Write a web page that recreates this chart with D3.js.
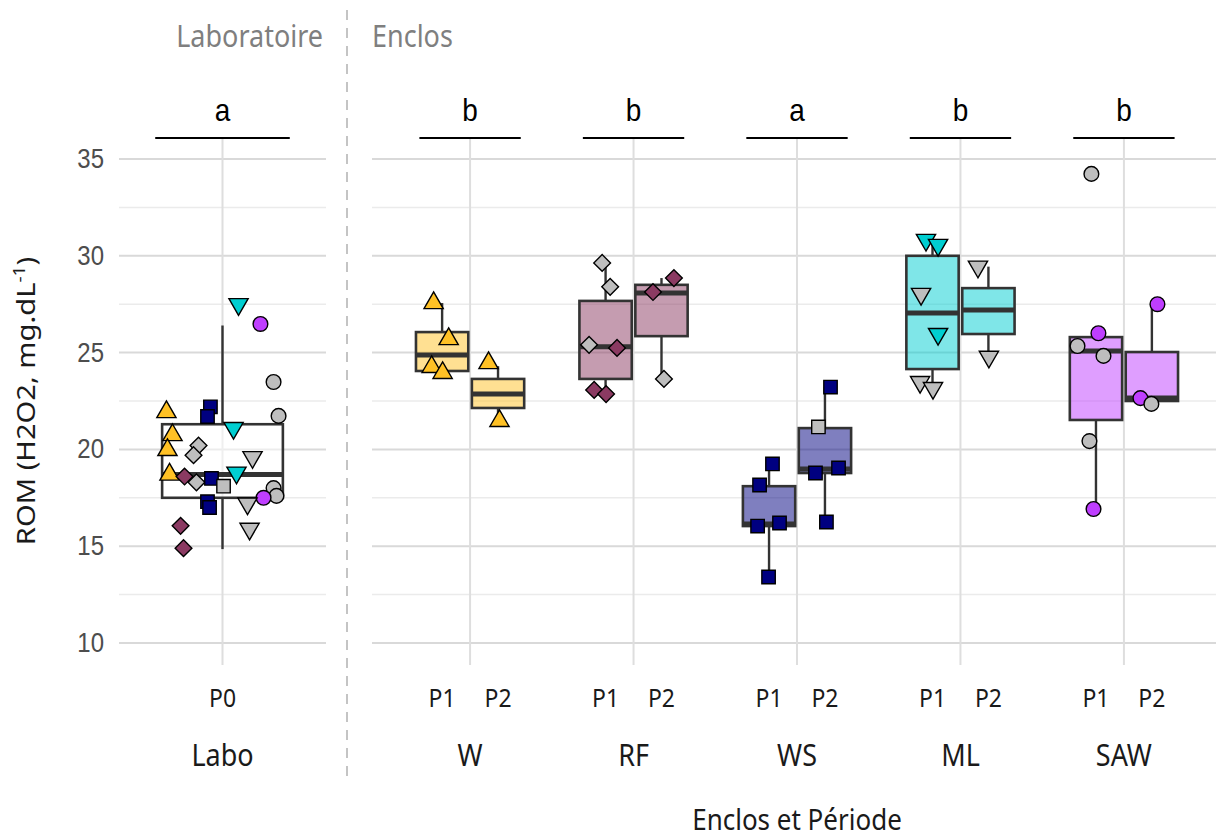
<!DOCTYPE html>
<html>
<head>
<meta charset="utf-8">
<script src="https://cdn.jsdelivr.net/npm/d3@7"></script>
<style>
  body { margin: 0; background: #fff; }
  svg { display: block; }
</style>
</head>
<body>
<div id="chart"></div>
<script>
// groups, periods and significance letters
const laboGroups = ["Labo"]
const enclosGroups = ["W", "RF", "WS", "ML", "SAW"]
const groupLetters = {Labo: "a", W: "b", RF: "b", WS: "a", ML: "b", SAW: "b"}

// box statistics (one entry per box)
const boxGroup  = ["Labo", "W", "W", "RF", "RF", "WS", "WS", "ML", "ML", "SAW", "SAW"]
const boxPeriod = ["P0", "P1", "P2", "P1", "P2", "P1", "P2", "P1", "P2", "P1", "P2"]
const boxLow    = [14.85, 23.95, 21.5, 22.86, 23.64, 13.41, 16.25, 23.17, 24.9, 16.92, 22.4]
const boxQ1     = [17.5, 24.05, 22.14, 23.64, 25.85, 16.04, 18.78, 24.15, 25.96, 21.52, 22.5]
const boxMedian = [18.7, 24.88, 22.86, 25.3, 28.08, 16.15, 18.99, 27.05, 27.2, 25.08, 22.65]
const boxQ3     = [21.3, 26.06, 23.64, 27.67, 28.5, 18.1, 21.1, 30.0, 28.33, 25.8, 25.03]
const boxHigh   = [26.4, 27.56, 24.3, 29.63, 28.85, 19.25, 23.22, 30.66, 29.44, 26.0, 27.46]

// individual points: box, enclos of the animal (shape/colour), coloured or grey, value, jitter (in category steps)
const ptGroup  = ["Labo","Labo","Labo","Labo","Labo","Labo","Labo","Labo","Labo","Labo","Labo","Labo","Labo","Labo",
                  "Labo","Labo","Labo","Labo","Labo","Labo","Labo","Labo","Labo","Labo","Labo","Labo","Labo","Labo",
                  "W","W","W","W","W","W",
                  "RF","RF","RF","RF","RF","RF","RF","RF","RF",
                  "WS","WS","WS","WS","WS","WS","WS","WS","WS","WS",
                  "ML","ML","ML","ML","ML","ML","ML","ML",
                  "SAW","SAW","SAW","SAW","SAW","SAW","SAW","SAW","SAW"]
const ptPeriod = ["P0","P0","P0","P0","P0","P0","P0","P0","P0","P0","P0","P0","P0","P0",
                  "P0","P0","P0","P0","P0","P0","P0","P0","P0","P0","P0","P0","P0","P0",
                  "P1","P1","P1","P1","P2","P2",
                  "P1","P1","P1","P1","P1","P1","P2","P2","P2",
                  "P1","P1","P1","P1","P1","P2","P2","P2","P2","P2",
                  "P1","P1","P1","P1","P1","P1","P2","P2",
                  "P1","P1","P1","P1","P1","P1","P2","P2","P2"]
const ptEnclos = ["ML","SAW","SAW","SAW","W","WS","WS","W","ML","RF","W","RF","ML","W",
                  "RF","RF","WS","ML","WS","SAW","SAW","SAW","WS","WS","ML","ML","RF","RF",
                  "W","W","W","W","W","W",
                  "RF","RF","RF","RF","RF","RF","RF","RF","RF",
                  "WS","WS","WS","WS","WS","WS","WS","WS","WS","WS",
                  "ML","ML","ML","ML","ML","ML","ML","ML",
                  "SAW","SAW","SAW","SAW","SAW","SAW","SAW","SAW","SAW"]
const ptColoured = [1,1,0,0,1,1,1,1,1,0,1,0,0,1,
                    1,0,1,1,0,0,0,1,1,1,0,0,1,1,
                    1,1,1,1,1,1,
                    0,0,0,1,1,1,1,1,0,
                    1,1,1,1,1,1,0,1,1,1,
                    1,1,0,1,0,0,0,0,
                    0,1,0,0,0,1,1,1,0]
const ptValue  = [27.5,26.48,23.48,21.73,21.93,22.2,21.7,20.74,21.1,20.2,19.97,19.7,19.6,18.7,
                  18.6,18.3,18.5,18.8,18.1,18.0,17.6,17.5,17.3,17.0,17.2,15.9,16.05,14.9,
                  27.56,25.7,24.26,23.95,24.46,21.47,
                  29.63,28.4,25.4,25.24,23.07,22.86,28.85,28.13,23.64,
                  19.25,18.16,16.04,16.2,13.41,23.22,21.16,18.78,19.04,16.25,
                  30.82,30.56,28.03,25.96,23.48,23.17,29.44,24.78,
                  34.23,26.0,25.34,24.83,20.43,16.92,27.5,22.65,22.35]
const ptJitter = [0.093,0.22,0.296,0.325,-0.325,-0.07,-0.087,-0.29,0.064,-0.139,-0.319,-0.168,0.174,-0.307,
                  -0.22,-0.151,-0.064,0.081,0.006,0.296,0.313,0.238,-0.087,-0.075,0.145,0.157,-0.243,-0.226,
                  -0.052,0.04,-0.064,0.003,-0.058,0.009,
                  -0.021,0.028,-0.101,0.07,-0.07,0.003,0.076,-0.052,0.015,
                  0.021,-0.058,-0.07,0.064,-0.003,0.034,-0.04,-0.058,0.083,0.009,
                  -0.04,0.034,-0.07,0.034,-0.076,0.003,-0.064,0.003,
                  -0.028,0.015,-0.113,0.046,-0.04,-0.015,0.034,-0.07,-0.003]

const yTicks = [10, 15, 20, 25, 30, 35]
const yMinor = [12.5, 17.5, 22.5, 27.5, 32.5]

// styling
const enclosColor = {W: "#FFC125", RF: "#8B3A62", WS: "#000080", ML: "#00CED1", SAW: "#BF3EFF"}
const greyColor = "#BEBEBE"
const sansUI = "'Noto Sans', 'Open Sans', sans-serif"
const sansArial = "'Liberation Sans', Arial, sans-serif"
const stretch = 1.12   // the reference text is a little taller than wide

const width = 1216, height = 839
const panelTop = 138, panelBottom = 665

const svg = d3.select("#chart").append("svg")
  .attr("width", width)
  .attr("height", height)

const y = d3.scaleLinear().domain([10, 35]).range([643, 159])

const xLabo = d3.scalePoint().domain(laboGroups).range([119, 326]).padding(0.6)
const xEnc = d3.scalePoint().domain(enclosGroups).range([372, 1222]).padding(0.6)

const panels = [
  {scale: xLabo, groups: laboGroups, x0: 119, x1: 326, boxW: 0.70, lineHalf: 0.39, title: "Laboratoire", anchor: "end"},
  {scale: xEnc, groups: enclosGroups, x0: 372, x1: 1222, boxW: 0.32, lineHalf: 0.31, title: "Enclos", anchor: "start"},
]

function panelOf(g) { return laboGroups.includes(g) ? panels[0] : panels[1] }
const dodge = {P0: 0, P1: -0.171, P2: 0.171}
function boxCenter(g, p) {
  const pn = panelOf(g)
  return pn.scale(g) + dodge[p] * pn.scale.step()
}

function label(x, yy, txt, size, opts = {}) {
  return svg.append("text")
    .attr("transform", `translate(${x},${yy}) scale(1,${stretch})`)
    .attr("text-anchor", opts.anchor || "middle")
    .attr("font-family", opts.family || sansUI)
    .attr("font-size", size)
    .attr("fill", opts.fill || "#1a1a1a")
    .text(txt)
}

// grid and panel titles
for (const pn of panels) {
  const g = svg.append("g")
  g.selectAll("line.minor")
    .data(yMinor)
    .join("line")
      .attr("x1", pn.x0).attr("x2", pn.x1)
      .attr("y1", d => y(d)).attr("y2", d => y(d))
      .attr("stroke", "#ebebeb")
      .attr("stroke-width", 1.5)
  g.selectAll("line.major")
    .data(yTicks)
    .join("line")
      .attr("x1", pn.x0).attr("x2", pn.x1)
      .attr("y1", d => y(d)).attr("y2", d => y(d))
      .attr("stroke", "#d9d9d9")
      .attr("stroke-width", 2)
  g.selectAll("line.vert")
    .data(pn.groups)
    .join("line")
      .attr("x1", d => pn.scale(d)).attr("x2", d => pn.scale(d))
      .attr("y1", panelTop).attr("y2", panelBottom)
      .attr("stroke", "#dedede")
      .attr("stroke-width", 2)

  label(pn.anchor == "end" ? pn.x1 - 3 : pn.x0, 47, pn.title, 27,
    {anchor: pn.anchor, fill: "#7f7f7f"})

  // significance letters
  for (const grp of pn.groups) {
    const cx = pn.scale(grp)
    const half = pn.lineHalf * pn.scale.step()
    svg.append("line")
      .attr("x1", cx - half).attr("x2", cx + half)
      .attr("y1", panelTop).attr("y2", panelTop)
      .attr("stroke", "#000")
      .attr("stroke-width", 2)
    label(cx, 121, groupLetters[grp], 28, {family: sansArial, fill: "#000"})
  }

  // x tick labels and group labels
  for (const grp of pn.groups) {
    const periods = [...new Set(boxPeriod.filter((p, i) => boxGroup[i] == grp))]
    for (const p of periods) {
      label(boxCenter(grp, p), 707, p, 23)
    }
    label(pn.scale(grp), 766, grp, 27)
  }
}

// separator between panels
svg.append("line")
  .attr("x1", 347).attr("x2", 347)
  .attr("y1", 10).attr("y2", 782)
  .attr("stroke", "#c4c4c4")
  .attr("stroke-width", 2)
  .attr("stroke-dasharray", "10,8")

// y axis labels
for (const t of yTicks) {
  label(104, y(t) + 9, t, 24, {anchor: "end", family: sansArial, fill: "#4d4d4d"})
}

const yTitle = svg.append("text")
  .attr("transform", `translate(35, 401) rotate(-90) scale(${stretch},1)`)
  .attr("text-anchor", "middle")
  .attr("font-family", sansUI)
  .attr("font-size", 26)
  .attr("fill", "#1a1a1a")
yTitle.append("tspan").text("ROM (H2O2, mg.dL")
yTitle.append("tspan").attr("dy", -10).attr("font-size", 17).text("-1")
yTitle.append("tspan").attr("dy", 10).text(")")

label(797, 830, "Enclos et Période", 26)

// boxes
const boxes = boxGroup.map((g, i) => ({
  group: g, period: boxPeriod[i],
  low: boxLow[i], q1: boxQ1[i], med: boxMedian[i], q3: boxQ3[i], high: boxHigh[i],
}))

const boxLayer = svg.append("g")
for (const b of boxes) {
  const pn = panelOf(b.group)
  const cx = boxCenter(b.group, b.period)
  const bw = pn.boxW * pn.scale.step()
  const fill = b.group == "Labo" ? "#ffffff" : enclosColor[b.group]
  const g = boxLayer.append("g")
  g.append("line")
    .attr("x1", cx).attr("x2", cx)
    .attr("y1", y(b.high)).attr("y2", y(b.q3))
    .attr("stroke", "#333").attr("stroke-width", 2.4)
  g.append("line")
    .attr("x1", cx).attr("x2", cx)
    .attr("y1", y(b.q1)).attr("y2", y(b.low))
    .attr("stroke", "#333").attr("stroke-width", 2.4)
  g.append("rect")
    .attr("x", cx - bw / 2)
    .attr("y", y(b.q3))
    .attr("width", bw)
    .attr("height", y(b.q1) - y(b.q3))
    .attr("fill", fill)
    .attr("fill-opacity", 0.5)
    .attr("stroke", "#333")
    .attr("stroke-width", 2.6)
  g.append("line")
    .attr("x1", cx - bw / 2).attr("x2", cx + bw / 2)
    .attr("y1", y(b.med)).attr("y2", y(b.med))
    .attr("stroke", "#333").attr("stroke-width", 5)
}

// points
const shapeOf = {
  W: {type: d3.symbolTriangle, size: 160, rotate: 0},
  ML: {type: d3.symbolTriangle, size: 160, rotate: 180},
  RF: {type: d3.symbolSquare, size: 140, rotate: 45},
  WS: {type: d3.symbolSquare, size: 180, rotate: 0},
  SAW: {type: d3.symbolCircle, size: 170, rotate: 0},
}

const points = ptValue.map((v, i) => ({
  group: ptGroup[i], period: ptPeriod[i], enclos: ptEnclos[i],
  coloured: ptColoured[i] == 1, value: v, jitter: ptJitter[i],
}))

svg.append("g").selectAll("path")
  .data(points)
  .join("path")
    .attr("d", d => d3.symbol(shapeOf[d.enclos].type, shapeOf[d.enclos].size)())
    .attr("transform", d => {
      const pn = panelOf(d.group)
      const px = boxCenter(d.group, d.period) + d.jitter * pn.scale.step()
      return `translate(${px},${y(d.value)}) rotate(${shapeOf[d.enclos].rotate})`
    })
    .attr("fill", d => d.coloured ? enclosColor[d.enclos] : greyColor)
    .attr("stroke", "#000")
    .attr("stroke-width", 1.4)
</script>
</body>
</html>
